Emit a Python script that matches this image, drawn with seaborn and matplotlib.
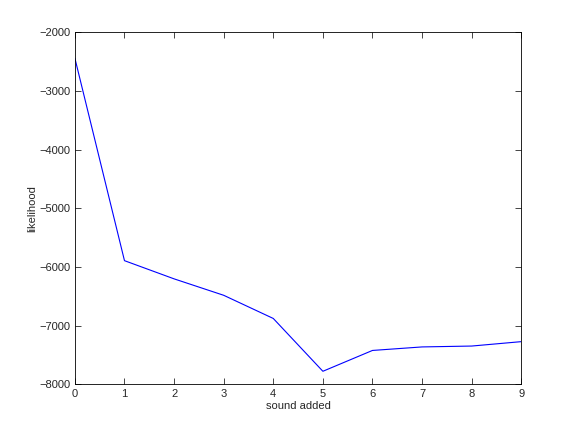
import matplotlib
matplotlib.use("Agg")
import matplotlib.pyplot as plt
import seaborn as sns

# values
sounds_added = [0, 1, 2, 3, 4, 5, 6, 7, 8, 9]
likelihood = [-2440, -5890, -6200, -6480, -6875, -7775, -7420, -7360, -7345, -7270]

sns.set_style("white")
plt.rcParams["font.family"] = ["Liberation Sans", "DejaVu Sans"]

fig = plt.figure(figsize=(5.76, 4.32), dpi=100)
ax = fig.add_axes([0.13, 0.11, 0.775, 0.815])
sns.lineplot(x=sounds_added, y=likelihood, color="blue", linewidth=0.8, ax=ax)

ax.set_xlim(0, 9)
ax.set_ylim(-8000, -2000)
ax.set_xticks(range(0, 10))
ax.set_yticks(range(-8000, -1999, 1000))
ax.set_xlabel("sound added", fontsize=8, labelpad=2)
ax.set_ylabel("likelihood", fontsize=8, labelpad=2)
ax.tick_params(direction="in", length=4, width=0.6, labelsize=8,
               top=True, right=True, bottom=True, left=True, pad=3)
for s in ax.spines.values():
    s.set_visible(True)
    s.set_color("black")
    s.set_linewidth(0.6)

fig.savefig("out.png", dpi=100)
